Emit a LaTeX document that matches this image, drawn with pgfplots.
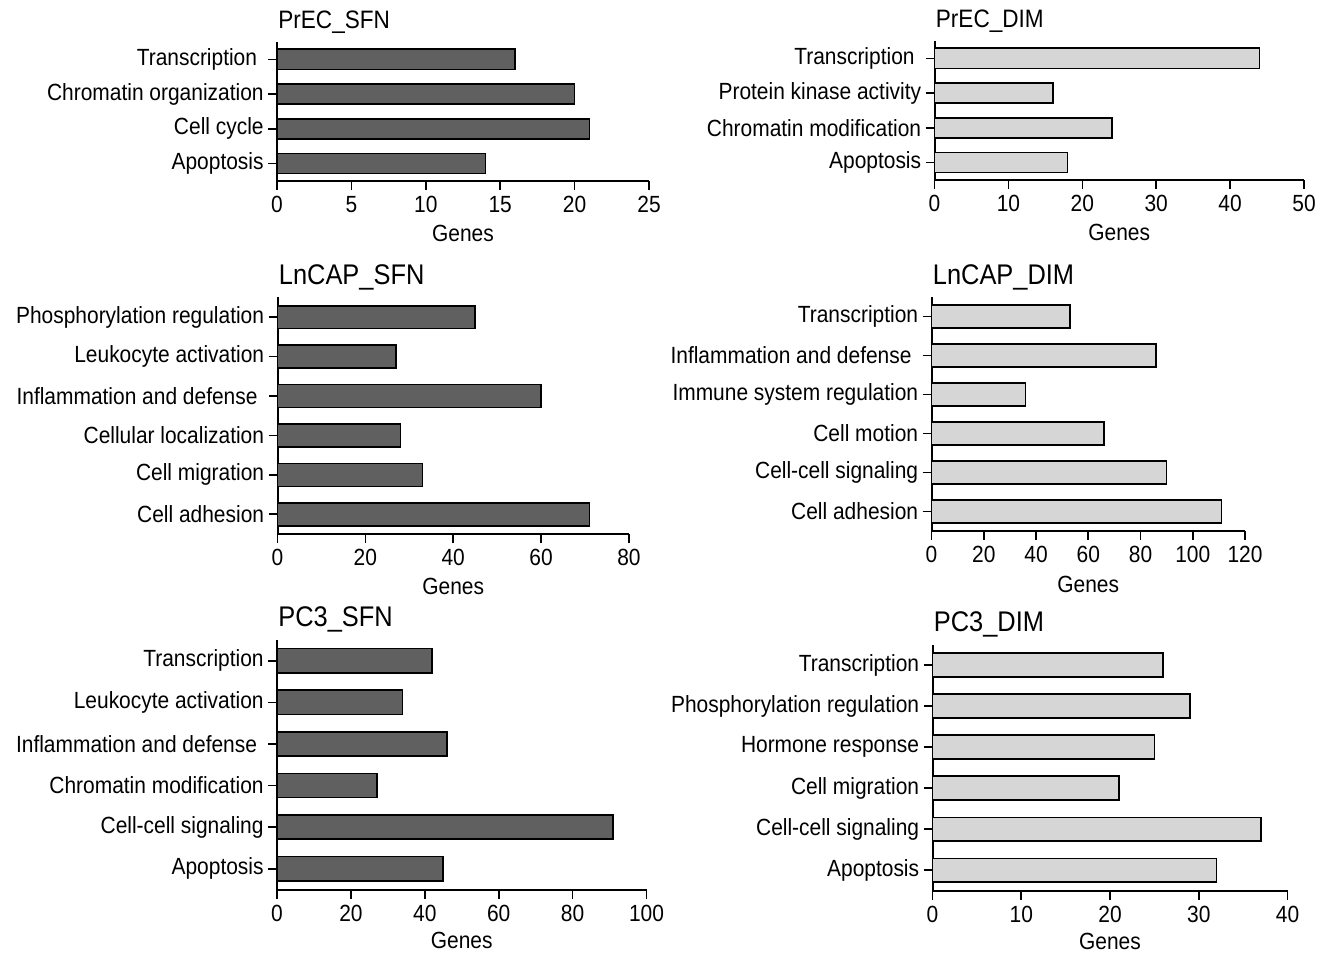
\documentclass[border=0pt]{standalone}
\usepackage{pgfplots}
\pgfplotsset{compat=1.18}
\usepackage{fontspec}
\setmainfont{Liberation Sans}[FakeStretch=0.895]
\definecolor{darkbar}{RGB}{96,96,96}
\definecolor{lightbar}{RGB}{214,214,214}
\newcommand{\tsp}{\kern0.28em}
\pgfplotsset{
  gobar/.style={
    scale only axis,
    anchor=south west,
    xbar, bar width=0.58,
    axis lines*=left,
    axis line style={line width=1pt, black},
    xmin=0, ymin=-0.5,
    xtick pos=left, ytick pos=left,
    tick align=outside,
    major tick length=4.5pt,
    every tick/.style={black, line width=0.8pt},
    /pgf/number format/assume math mode=true,
    tick label style={font=\fontsize{11.7}{14}\selectfont},
    xticklabel style={anchor=base, yshift=-11.5pt},
    yticklabel style={anchor=east, inner sep=0pt, xshift=-2pt},
    label style={font=\fontsize{11.7}{14}\selectfont},
    xlabel={Genes},
    xlabel style={at={(axis description cs:0.5,0)}, anchor=base, inner sep=0pt, yshift=-30.5pt},
    title style={at={(axis description cs:0,1)}, anchor=base west, inner sep=0pt, yshift=0.5pt, xshift=0.5pt, font=\fontsize{14.2}{16}\selectfont},
    clip=false,
  },
  smalltitle/.style={title style={font=\fontsize{12.6}{15}\selectfont}},
  lowrow/.style={xlabel style={yshift=1pt}},
  dk/.style={fill=darkbar, draw=black, line width=0.8pt},
  lt/.style={fill=lightbar, draw=black, line width=0.8pt},
}
\begin{document}
\begin{tikzpicture}
\useasboundingbox (0,0) rectangle (662.5pt,476.5pt);
% PrEC_SFN
\begin{axis}[gobar, smalltitle, at={(138.5pt,386pt)}, width=186pt, height=69.5pt,
  xmax=25, xtick={0,5,...,25}, ymax=3.5, ytick={0,1,2,3},
  yticklabels={Apoptosis,Cell cycle,Chromatin organization,Transcription\tsp},
  title={PrEC\_SFN}]
\addplot[dk] coordinates {(14,0) (21,1) (20,2) (16,3)};
\end{axis}
% PrEC_DIM
\begin{axis}[gobar, smalltitle, at={(467.25pt,386.5pt)}, width=184.75pt, height=69.5pt,
  xmax=50, xtick={0,10,...,50}, ymax=3.5, ytick={0,1,2,3},
  yticklabels={Apoptosis,Chromatin modification,Protein kinase activity,Transcription\tsp},
  title={PrEC\_DIM}]
\addplot[lt] coordinates {(18,0) (24,1) (16,2) (44,3)};
\end{axis}
% LnCAP_SFN
\begin{axis}[gobar, at={(138.75pt,209.5pt)}, width=175.75pt, height=118.25pt,
  xmax=80, xtick={0,20,...,80}, ymax=5.5, ytick={0,...,5},
  yticklabels={Cell adhesion,Cell migration,Cellular localization,Inflammation and defense\tsp,Leukocyte activation,Phosphorylation regulation},
  title={LnCAP\_SFN}]
\addplot[dk] coordinates {(71,0) (33,1) (28,2) (60,3) (27,4) (45,5)};
\end{axis}
% LnCAP_DIM
\begin{axis}[gobar, at={(465.75pt,211pt)}, width=156.75pt, height=117pt,
  xmax=120, xtick={0,20,...,120}, ymax=5.5, ytick={0,...,5},
  yticklabels={Cell adhesion,Cell-cell signaling,Cell motion,Immune system regulation,Inflammation and defense\tsp,Transcription},
  title={LnCAP\_DIM}]
\addplot[lt] coordinates {(111,0) (90,1) (66,2) (36,3) (86,4) (53,5)};
\end{axis}
% PC3_SFN
\begin{axis}[gobar, lowrow, at={(138.5pt,31.75pt)}, width=184.75pt, height=124.8pt,
  xmax=100, xtick={0,20,...,100}, ymax=5.5, ytick={0,...,5},
  yticklabels={Apoptosis,Cell-cell signaling,Chromatin modification,Inflammation and defense\tsp,Leukocyte activation,Transcription},
  title={PC3\_SFN}]
\addplot[dk] coordinates {(45,0) (91,1) (27,2) (46,3) (34,4) (42,5)};
\end{axis}
% PC3_DIM
\begin{axis}[gobar, lowrow, at={(466.25pt,31.1pt)}, width=177.5pt, height=123.15pt,
  xmax=40, xtick={0,10,...,40}, ymax=5.5, ytick={0,...,5},
  yticklabels={Apoptosis,Cell-cell signaling,Cell migration,Hormone response,Phosphorylation regulation,Transcription},
  title={PC3\_DIM}]
\addplot[lt] coordinates {(32,0) (37,1) (21,2) (25,3) (29,4) (26,5)};
\end{axis}
\end{tikzpicture}
\end{document}
